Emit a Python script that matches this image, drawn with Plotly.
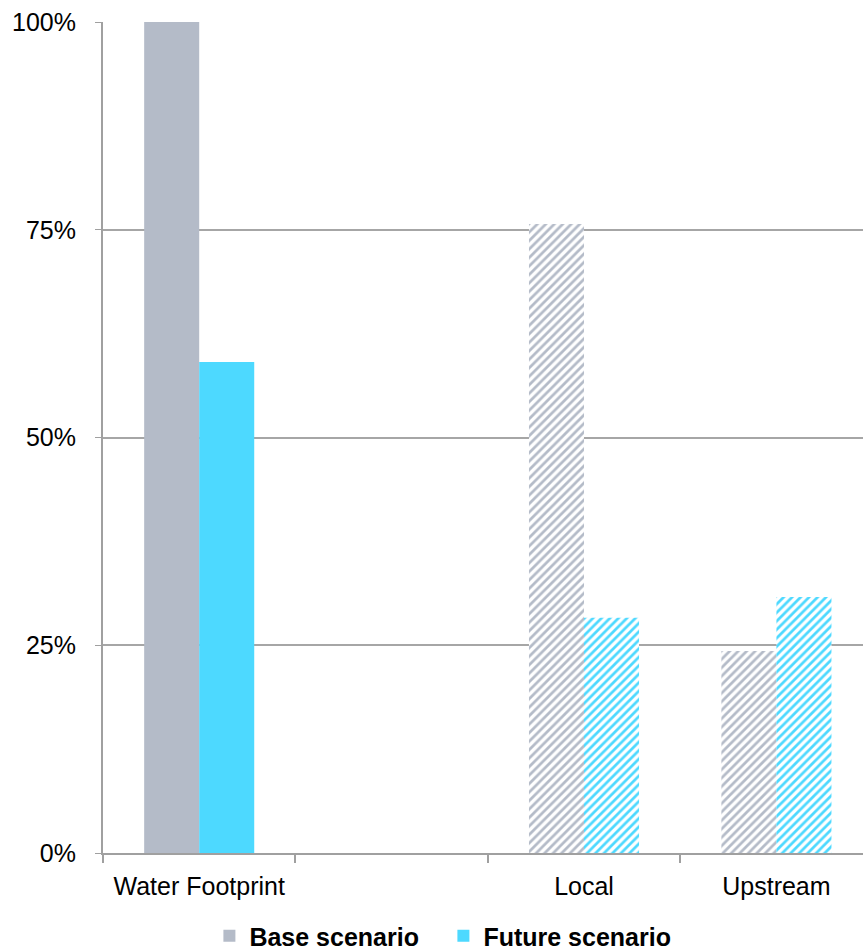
import plotly.graph_objects as go

categories = ["Water Footprint", " ", "Local", "Upstream"]
base_values = [1.00, None, 0.757, 0.243]
future_values = [0.591, None, 0.283, 0.308]
series_names = ["Base scenario", "Future scenario"]
patterns = ["", "", "/", "/"]
y_ticks = [0, 0.25, 0.5, 0.75, 1.0]
y_labels = ["0%", "25%", "50%", "75%", "100%"]

base_color = "#B4BBC8"
future_color = "#4DD9FF"

fig = go.Figure()
for name, vals, col in [(series_names[0], base_values, base_color),
                        (series_names[1], future_values, future_color)]:
    fig.add_trace(go.Bar(
        x=categories, y=vals, name=name,
        marker=dict(color=col, line=dict(width=0),
                    pattern=dict(shape=patterns, fgcolor=col, bgcolor="white",
                                 fillmode="replace", size=6, solidity=0.45)),
    ))

fig.update_layout(
    width=863, height=950,
    margin=dict(l=103, r=0, t=22, b=97, autoexpand=False),
    plot_bgcolor="white", paper_bgcolor="white",
    barmode="group", bargap=0.428, bargroupgap=0,
    font=dict(family="Liberation Sans, Arial, sans-serif", size=25, color="black"),
    showlegend=True,
    legend=dict(orientation="h", x=0.14, xanchor="left", y=-0.1, yanchor="middle",
                font=dict(size=25, weight="bold"), itemwidth=30, traceorder="normal",
                entrywidth=189, entrywidthmode="pixels"),
    xaxis=dict(type="category", range=[-0.5, 3.45], tickson="boundaries",
               ticks="outside", ticklen=8, tickcolor="#A0A0A0", tickwidth=1.5,
               showline=True, linecolor="#A0A0A0", linewidth=2,
               showgrid=False, tickfont=dict(size=25), ticklabelstandoff=10),
    yaxis=dict(range=[0, 1.0], tickvals=y_ticks, ticktext=y_labels,
               showgrid=True, gridcolor="#A6A6A6", gridwidth=2,
               showline=True, linecolor="#A0A0A0", linewidth=2,
               ticks="outside", ticklen=6, tickcolor="#A0A0A0",
               zeroline=False, tickfont=dict(size=25), ticklabelstandoff=14),
)

fig.write_html("out.html")
